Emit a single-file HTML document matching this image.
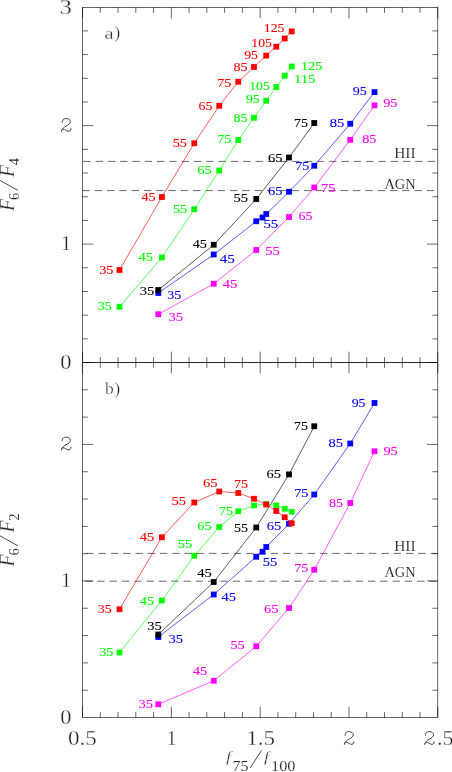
<!DOCTYPE html>
<html><head><meta charset="utf-8"><title>fig</title>
<style>html,body{margin:0;padding:0;background:#fff;}body{width:452px;height:772px;overflow:hidden;}svg{display:block;will-change:transform;}text{font-family:"Liberation Serif",serif;}.lb{font-size:13.3px;}.ax{font-size:20.2px;fill:#222;stroke:#fff;stroke-width:0.3px;}.it{font-style:italic;fill:#222;stroke:#fff;stroke-width:0.3px;}.rm{fill:#222;stroke:#fff;stroke-width:0.12px;}</style></head><body>
<svg width="452" height="772" viewBox="0 0 452 772">
<rect width="452" height="772" fill="#fff"/>
<g stroke="#000" stroke-width="0.6" fill="none">
<rect x="82.5" y="7.5" width="355.3" height="710.0"/>
<line x1="82.5" y1="362.5" x2="437.8" y2="362.5"/><line x1="82.5" y1="362.5" x2="437.8" y2="362.5"/>
<path d="M82.50 7.5v10.8M82.50 351.7v21.6M82.50 717.5v-10.8M100.27 7.5v5.4M100.27 357.1v10.8M100.27 717.5v-5.4M118.03 7.5v5.4M118.03 357.1v10.8M118.03 717.5v-5.4M135.80 7.5v5.4M135.80 357.1v10.8M135.80 717.5v-5.4M153.56 7.5v5.4M153.56 357.1v10.8M153.56 717.5v-5.4M171.32 7.5v10.8M171.32 351.7v21.6M171.32 717.5v-10.8M189.09 7.5v5.4M189.09 357.1v10.8M189.09 717.5v-5.4M206.85 7.5v5.4M206.85 357.1v10.8M206.85 717.5v-5.4M224.62 7.5v5.4M224.62 357.1v10.8M224.62 717.5v-5.4M242.39 7.5v5.4M242.39 357.1v10.8M242.39 717.5v-5.4M260.15 7.5v10.8M260.15 351.7v21.6M260.15 717.5v-10.8M277.92 7.5v5.4M277.92 357.1v10.8M277.92 717.5v-5.4M295.68 7.5v5.4M295.68 357.1v10.8M295.68 717.5v-5.4M313.45 7.5v5.4M313.45 357.1v10.8M313.45 717.5v-5.4M331.21 7.5v5.4M331.21 357.1v10.8M331.21 717.5v-5.4M348.98 7.5v10.8M348.98 351.7v21.6M348.98 717.5v-10.8M366.74 7.5v5.4M366.74 357.1v10.8M366.74 717.5v-5.4M384.50 7.5v5.4M384.50 357.1v10.8M384.50 717.5v-5.4M402.27 7.5v5.4M402.27 357.1v10.8M402.27 717.5v-5.4M420.03 7.5v5.4M420.03 357.1v10.8M420.03 717.5v-5.4M437.80 7.5v10.8M437.80 351.7v21.6M437.80 717.5v-10.8M82.5 362.50h10.8M437.8 362.50h-10.8M82.5 338.86h5.4M437.8 338.86h-5.4M82.5 315.17h5.4M437.8 315.17h-5.4M82.5 291.48h5.4M437.8 291.48h-5.4M82.5 267.79h5.4M437.8 267.79h-5.4M82.5 244.10h10.8M437.8 244.10h-10.8M82.5 220.41h5.4M437.8 220.41h-5.4M82.5 196.72h5.4M437.8 196.72h-5.4M82.5 173.03h5.4M437.8 173.03h-5.4M82.5 149.34h5.4M437.8 149.34h-5.4M82.5 125.65h10.8M437.8 125.65h-10.8M82.5 101.96h5.4M437.8 101.96h-5.4M82.5 78.27h5.4M437.8 78.27h-5.4M82.5 54.58h5.4M437.8 54.58h-5.4M82.5 30.89h5.4M437.8 30.89h-5.4M82.5 690.19h5.4M437.8 690.19h-5.4M82.5 662.88h5.4M437.8 662.88h-5.4M82.5 635.58h5.4M437.8 635.58h-5.4M82.5 608.27h5.4M437.8 608.27h-5.4M82.5 580.96h10.8M437.8 580.96h-10.8M82.5 553.65h5.4M437.8 553.65h-5.4M82.5 526.35h5.4M437.8 526.35h-5.4M82.5 499.04h5.4M437.8 499.04h-5.4M82.5 471.73h5.4M437.8 471.73h-5.4M82.5 444.42h10.8M437.8 444.42h-10.8M82.5 417.12h5.4M437.8 417.12h-5.4M82.5 389.81h5.4M437.8 389.81h-5.4"/>
</g>
<g stroke="#000" stroke-width="0.6" stroke-dasharray="7.4 4.9" fill="none">
<line x1="82.5" y1="161.40" x2="437.8" y2="161.40" stroke-dashoffset="11.6"/>
<line x1="82.5" y1="190.60" x2="437.8" y2="190.60" stroke-dashoffset="0.1"/>
<line x1="82.5" y1="553.40" x2="437.8" y2="553.40" stroke-dashoffset="8.6"/>
<line x1="82.5" y1="581.20" x2="437.8" y2="581.20" stroke-dashoffset="9.8"/>
</g>
<polyline points="158.3,314.25 213.75,283.75 256.25,250 289,217 314.25,187.5 350.25,139.8 374.5,105.4" fill="none" stroke="#ff00ff" stroke-width="0.64"/>
<g fill="#ff00ff"><rect x="155.40" y="311.35" width="5.8" height="5.8"/><rect x="210.85" y="280.85" width="5.8" height="5.8"/><rect x="253.35" y="247.10" width="5.8" height="5.8"/><rect x="286.10" y="214.10" width="5.8" height="5.8"/><rect x="311.35" y="184.60" width="5.8" height="5.8"/><rect x="347.35" y="136.90" width="5.8" height="5.8"/><rect x="371.60" y="102.50" width="5.8" height="5.8"/></g>
<polyline points="158.3,293 213.75,254.5 256.25,221.25 262.5,217.5 266.25,214 289,191.75 314.25,165.75 350.25,123.75 374.5,92.1" fill="none" stroke="#0000ff" stroke-width="0.64"/>
<g fill="#0000ff"><rect x="155.40" y="290.10" width="5.8" height="5.8"/><rect x="210.85" y="251.60" width="5.8" height="5.8"/><rect x="253.35" y="218.35" width="5.8" height="5.8"/><rect x="259.60" y="214.60" width="5.8" height="5.8"/><rect x="263.35" y="211.10" width="5.8" height="5.8"/><rect x="286.10" y="188.85" width="5.8" height="5.8"/><rect x="311.35" y="162.85" width="5.8" height="5.8"/><rect x="347.35" y="120.85" width="5.8" height="5.8"/><rect x="371.60" y="89.20" width="5.8" height="5.8"/></g>
<polyline points="158.3,290 213.75,244.75 256.25,199 289,157.5 314.25,123" fill="none" stroke="#000000" stroke-width="0.64"/>
<g fill="#000000"><rect x="155.40" y="287.10" width="5.8" height="5.8"/><rect x="210.85" y="241.85" width="5.8" height="5.8"/><rect x="253.35" y="196.10" width="5.8" height="5.8"/><rect x="286.10" y="154.60" width="5.8" height="5.8"/><rect x="311.35" y="120.10" width="5.8" height="5.8"/></g>
<polyline points="119.5,306.75 161.9,257.5 194.25,209.25 219.25,170.5 238.25,140 254,117.75 266.2,100.75 276.3,87 284.7,75.75 291.7,66.5" fill="none" stroke="#00ff00" stroke-width="0.64"/>
<g fill="#00ff00"><rect x="116.60" y="303.85" width="5.8" height="5.8"/><rect x="159.00" y="254.60" width="5.8" height="5.8"/><rect x="191.35" y="206.35" width="5.8" height="5.8"/><rect x="216.35" y="167.60" width="5.8" height="5.8"/><rect x="235.35" y="137.10" width="5.8" height="5.8"/><rect x="251.10" y="114.85" width="5.8" height="5.8"/><rect x="263.30" y="97.85" width="5.8" height="5.8"/><rect x="273.40" y="84.10" width="5.8" height="5.8"/><rect x="281.80" y="72.85" width="5.8" height="5.8"/><rect x="288.80" y="63.60" width="5.8" height="5.8"/></g>
<polyline points="119.5,270 161.9,197 194.25,143.25 219.25,105.75 238.25,81.75 254,67 266.2,55.6 276.3,46.7 284.7,38.5 291.7,31.4" fill="none" stroke="#ff0000" stroke-width="0.64"/>
<g fill="#ff0000"><rect x="116.60" y="267.10" width="5.8" height="5.8"/><rect x="159.00" y="194.10" width="5.8" height="5.8"/><rect x="191.35" y="140.35" width="5.8" height="5.8"/><rect x="216.35" y="102.85" width="5.8" height="5.8"/><rect x="235.35" y="78.85" width="5.8" height="5.8"/><rect x="251.10" y="64.10" width="5.8" height="5.8"/><rect x="263.30" y="52.70" width="5.8" height="5.8"/><rect x="273.40" y="43.80" width="5.8" height="5.8"/><rect x="281.80" y="35.60" width="5.8" height="5.8"/><rect x="288.80" y="28.50" width="5.8" height="5.8"/></g>
<polyline points="158.3,704.25 213.75,680.75 256.25,646.25 289,608 314.25,569.75 350.25,503 374.5,451.25" fill="none" stroke="#ff00ff" stroke-width="0.64"/>
<g fill="#ff00ff"><rect x="155.40" y="701.35" width="5.8" height="5.8"/><rect x="210.85" y="677.85" width="5.8" height="5.8"/><rect x="253.35" y="643.35" width="5.8" height="5.8"/><rect x="286.10" y="605.10" width="5.8" height="5.8"/><rect x="311.35" y="566.85" width="5.8" height="5.8"/><rect x="347.35" y="500.10" width="5.8" height="5.8"/><rect x="371.60" y="448.35" width="5.8" height="5.8"/></g>
<polyline points="158.3,637 213.75,594.5 256.25,556.75 262.5,551.75 266.25,547 289,523.75 314.25,494.5 350.25,443.5 374.5,403" fill="none" stroke="#0000ff" stroke-width="0.64"/>
<g fill="#0000ff"><rect x="155.40" y="634.10" width="5.8" height="5.8"/><rect x="210.85" y="591.60" width="5.8" height="5.8"/><rect x="253.35" y="553.85" width="5.8" height="5.8"/><rect x="259.60" y="548.85" width="5.8" height="5.8"/><rect x="263.35" y="544.10" width="5.8" height="5.8"/><rect x="286.10" y="520.85" width="5.8" height="5.8"/><rect x="311.35" y="491.60" width="5.8" height="5.8"/><rect x="347.35" y="440.60" width="5.8" height="5.8"/><rect x="371.60" y="400.10" width="5.8" height="5.8"/></g>
<polyline points="158.3,634.5 213.75,582 256.25,527.5 289,474.4 314.25,426.25" fill="none" stroke="#000000" stroke-width="0.64"/>
<g fill="#000000"><rect x="155.40" y="631.60" width="5.8" height="5.8"/><rect x="210.85" y="579.10" width="5.8" height="5.8"/><rect x="253.35" y="524.60" width="5.8" height="5.8"/><rect x="286.10" y="471.50" width="5.8" height="5.8"/><rect x="311.35" y="423.35" width="5.8" height="5.8"/></g>
<polyline points="119.5,652.5 161.9,600.5 194.25,555.75 219.25,527 238.25,511.25 254,505.5 266.2,504 276.3,505.5 284.7,508.75 291.7,511.75" fill="none" stroke="#00ff00" stroke-width="0.64"/>
<g fill="#00ff00"><rect x="116.60" y="649.60" width="5.8" height="5.8"/><rect x="159.00" y="597.60" width="5.8" height="5.8"/><rect x="191.35" y="552.85" width="5.8" height="5.8"/><rect x="216.35" y="524.10" width="5.8" height="5.8"/><rect x="235.35" y="508.35" width="5.8" height="5.8"/><rect x="251.10" y="502.60" width="5.8" height="5.8"/><rect x="263.30" y="501.10" width="5.8" height="5.8"/><rect x="273.40" y="502.60" width="5.8" height="5.8"/><rect x="281.80" y="505.85" width="5.8" height="5.8"/><rect x="288.80" y="508.85" width="5.8" height="5.8"/></g>
<polyline points="119.5,609.25 161.9,537.25 194.25,502.5 219.25,491.5 238.25,493 254,498.75 266.2,504.5 276.3,511 284.7,517.25 291.7,523.25" fill="none" stroke="#ff0000" stroke-width="0.64"/>
<g fill="#ff0000"><rect x="116.60" y="606.35" width="5.8" height="5.8"/><rect x="159.00" y="534.35" width="5.8" height="5.8"/><rect x="191.35" y="499.60" width="5.8" height="5.8"/><rect x="216.35" y="488.60" width="5.8" height="5.8"/><rect x="235.35" y="490.10" width="5.8" height="5.8"/><rect x="251.10" y="495.85" width="5.8" height="5.8"/><rect x="263.30" y="501.60" width="5.8" height="5.8"/><rect x="273.40" y="508.10" width="5.8" height="5.8"/><rect x="281.80" y="514.35" width="5.8" height="5.8"/><rect x="288.80" y="520.35" width="5.8" height="5.8"/></g>
<g class="lb" fill="#ff00ff" stroke="#ff00ff" stroke-width="0.1">
<text x="168.45" y="321.40" textLength="14.55" lengthAdjust="spacingAndGlyphs">35</text>
<text x="222.70" y="288.40" textLength="14.55" lengthAdjust="spacingAndGlyphs">45</text>
<text x="265.20" y="255.40" textLength="14.55" lengthAdjust="spacingAndGlyphs">55</text>
<text x="298.45" y="220.40" textLength="14.05" lengthAdjust="spacingAndGlyphs">65</text>
<text x="320.95" y="191.65" textLength="14.55" lengthAdjust="spacingAndGlyphs">75</text>
<text x="362.20" y="143.40" textLength="14.30" lengthAdjust="spacingAndGlyphs">85</text>
<text x="383.20" y="107.15" textLength="14.30" lengthAdjust="spacingAndGlyphs">95</text>
<text x="138.45" y="707.90" textLength="14.55" lengthAdjust="spacingAndGlyphs">35</text>
<text x="192.70" y="674.65" textLength="14.55" lengthAdjust="spacingAndGlyphs">45</text>
<text x="230.45" y="649.40" textLength="14.30" lengthAdjust="spacingAndGlyphs">55</text>
<text x="263.95" y="612.90" textLength="14.55" lengthAdjust="spacingAndGlyphs">65</text>
<text x="294.20" y="572.15" textLength="14.30" lengthAdjust="spacingAndGlyphs">75</text>
<text x="328.95" y="507.15" textLength="14.05" lengthAdjust="spacingAndGlyphs">85</text>
<text x="383.45" y="454.90" textLength="14.30" lengthAdjust="spacingAndGlyphs">95</text>
</g>
<g class="lb" fill="#0000ff" stroke="#0000ff" stroke-width="0.1">
<text x="167.20" y="298.90" textLength="14.05" lengthAdjust="spacingAndGlyphs">35</text>
<text x="219.70" y="262.90" textLength="15.05" lengthAdjust="spacingAndGlyphs">45</text>
<text x="263.40" y="227.90" textLength="14.80" lengthAdjust="spacingAndGlyphs">55</text>
<text x="267.95" y="194.90" textLength="14.55" lengthAdjust="spacingAndGlyphs">65</text>
<text x="295.20" y="169.65" textLength="14.05" lengthAdjust="spacingAndGlyphs">75</text>
<text x="329.70" y="126.65" textLength="14.55" lengthAdjust="spacingAndGlyphs">85</text>
<text x="352.70" y="95.40" textLength="14.05" lengthAdjust="spacingAndGlyphs">95</text>
<text x="168.45" y="643.40" textLength="14.55" lengthAdjust="spacingAndGlyphs">35</text>
<text x="221.45" y="601.15" textLength="14.55" lengthAdjust="spacingAndGlyphs">45</text>
<text x="262.70" y="566.15" textLength="14.55" lengthAdjust="spacingAndGlyphs">55</text>
<text x="266.70" y="529.90" textLength="14.55" lengthAdjust="spacingAndGlyphs">65</text>
<text x="294.20" y="496.65" textLength="14.30" lengthAdjust="spacingAndGlyphs">75</text>
<text x="328.45" y="447.40" textLength="14.55" lengthAdjust="spacingAndGlyphs">85</text>
<text x="351.70" y="406.65" textLength="13.80" lengthAdjust="spacingAndGlyphs">95</text>
</g>
<g class="lb" fill="#000000" stroke="#000000" stroke-width="0.1">
<text x="139.70" y="294.65" textLength="14.55" lengthAdjust="spacingAndGlyphs">35</text>
<text x="192.70" y="247.90" textLength="14.30" lengthAdjust="spacingAndGlyphs">45</text>
<text x="233.45" y="202.40" textLength="14.55" lengthAdjust="spacingAndGlyphs">55</text>
<text x="267.95" y="161.65" textLength="14.55" lengthAdjust="spacingAndGlyphs">65</text>
<text x="293.95" y="126.65" textLength="14.05" lengthAdjust="spacingAndGlyphs">75</text>
<text x="147.20" y="630.40" textLength="14.55" lengthAdjust="spacingAndGlyphs">35</text>
<text x="197.20" y="576.65" textLength="14.55" lengthAdjust="spacingAndGlyphs">45</text>
<text x="233.95" y="531.65" textLength="14.05" lengthAdjust="spacingAndGlyphs">55</text>
<text x="266.45" y="478.40" textLength="14.55" lengthAdjust="spacingAndGlyphs">65</text>
<text x="293.95" y="430.40" textLength="14.05" lengthAdjust="spacingAndGlyphs">75</text>
</g>
<g class="lb" fill="#00ff00" stroke="#00ff00" stroke-width="0.1">
<text x="97.70" y="309.65" textLength="14.05" lengthAdjust="spacingAndGlyphs">35</text>
<text x="138.45" y="261.40" textLength="14.55" lengthAdjust="spacingAndGlyphs">45</text>
<text x="172.95" y="213.15" textLength="14.30" lengthAdjust="spacingAndGlyphs">55</text>
<text x="197.20" y="173.65" textLength="14.55" lengthAdjust="spacingAndGlyphs">65</text>
<text x="217.20" y="143.40" textLength="14.05" lengthAdjust="spacingAndGlyphs">75</text>
<text x="233.45" y="122.40" textLength="14.05" lengthAdjust="spacingAndGlyphs">85</text>
<text x="245.95" y="102.90" textLength="13.80" lengthAdjust="spacingAndGlyphs">95</text>
<text x="249.20" y="89.90" textLength="20.55" lengthAdjust="spacingAndGlyphs">105</text>
<text x="293.95" y="83.40" textLength="21.55" lengthAdjust="spacingAndGlyphs">115</text>
<text x="300.95" y="69.90" textLength="21.55" lengthAdjust="spacingAndGlyphs">125</text>
<text x="99.20" y="655.90" textLength="14.30" lengthAdjust="spacingAndGlyphs">35</text>
<text x="139.70" y="604.65" textLength="14.55" lengthAdjust="spacingAndGlyphs">45</text>
<text x="177.70" y="548.40" textLength="14.55" lengthAdjust="spacingAndGlyphs">55</text>
<text x="197.20" y="529.90" textLength="14.55" lengthAdjust="spacingAndGlyphs">65</text>
<text x="218.95" y="514.90" textLength="14.05" lengthAdjust="spacingAndGlyphs">75</text>
</g>
<g class="lb" fill="#ff0000" stroke="#ff0000" stroke-width="0.1">
<text x="99.20" y="273.90" textLength="14.30" lengthAdjust="spacingAndGlyphs">35</text>
<text x="141.45" y="201.15" textLength="14.05" lengthAdjust="spacingAndGlyphs">45</text>
<text x="172.70" y="146.65" textLength="14.30" lengthAdjust="spacingAndGlyphs">55</text>
<text x="198.45" y="110.40" textLength="14.05" lengthAdjust="spacingAndGlyphs">65</text>
<text x="217.20" y="86.65" textLength="14.05" lengthAdjust="spacingAndGlyphs">75</text>
<text x="233.45" y="71.00" textLength="14.05" lengthAdjust="spacingAndGlyphs">85</text>
<text x="244.20" y="59.40" textLength="13.80" lengthAdjust="spacingAndGlyphs">95</text>
<text x="251.30" y="46.90" textLength="20.60" lengthAdjust="spacingAndGlyphs">105</text>
<text x="263.70" y="32.20" textLength="20.90" lengthAdjust="spacingAndGlyphs">125</text>
<text x="97.70" y="613.40" textLength="14.05" lengthAdjust="spacingAndGlyphs">35</text>
<text x="139.70" y="540.90" textLength="14.55" lengthAdjust="spacingAndGlyphs">45</text>
<text x="171.45" y="504.65" textLength="14.55" lengthAdjust="spacingAndGlyphs">55</text>
<text x="202.95" y="486.65" textLength="14.55" lengthAdjust="spacingAndGlyphs">65</text>
<text x="233.95" y="487.90" textLength="14.05" lengthAdjust="spacingAndGlyphs">75</text>
</g>
<g class="ax">
<text x="59.6" y="13.50" textLength="12.4" lengthAdjust="spacingAndGlyphs">3</text>
<path transform="translate(60.70,118.10) scale(1.0)" d="M1.5 4.3C1.1 3.9 1.2 3.2 1.9 3.0C1.7 1.5 3.3 0.45 5.3 0.45C7.9 0.45 9.7 1.7 9.7 3.6C9.7 5.5 7.7 6.8 5.3 8.1C3.1 9.3 1.3 10.6 0.75 13.3M0.85 12.1C1.8 10.8 3.3 10.8 4.7 11.8C6.4 13.0 8.3 13.7 9.4 12.7C10.0 12.1 10.2 11.4 10.25 10.5" fill="none" stroke="#222" stroke-width="0.85" stroke-linecap="round" stroke-linejoin="round"/>
<text x="60.9" y="250.20">1</text>
<text x="60.2" y="368.50" textLength="11.2" lengthAdjust="spacingAndGlyphs">0</text>
<path transform="translate(60.70,436.70) scale(1.0)" d="M1.5 4.3C1.1 3.9 1.2 3.2 1.9 3.0C1.7 1.5 3.3 0.45 5.3 0.45C7.9 0.45 9.7 1.7 9.7 3.6C9.7 5.5 7.7 6.8 5.3 8.1C3.1 9.3 1.3 10.6 0.75 13.3M0.85 12.1C1.8 10.8 3.3 10.8 4.7 11.8C6.4 13.0 8.3 13.7 9.4 12.7C10.0 12.1 10.2 11.4 10.25 10.5" fill="none" stroke="#222" stroke-width="0.85" stroke-linecap="round" stroke-linejoin="round"/>
<text x="60.9" y="587.00">1</text>
<text x="60.2" y="723.50" textLength="11.2" lengthAdjust="spacingAndGlyphs">0</text>
<text x="68.00" y="744.9" textLength="28.8" lengthAdjust="spacingAndGlyphs">0.5</text>
<text x="166.50" y="744.9" textLength="10.2" lengthAdjust="spacingAndGlyphs">1</text>
<text x="246.20" y="744.9" textLength="28.8" lengthAdjust="spacingAndGlyphs">1.5</text>
<path transform="translate(343.60,731.15) scale(1.0)" d="M1.5 4.3C1.1 3.9 1.2 3.2 1.9 3.0C1.7 1.5 3.3 0.45 5.3 0.45C7.9 0.45 9.7 1.7 9.7 3.6C9.7 5.5 7.7 6.8 5.3 8.1C3.1 9.3 1.3 10.6 0.75 13.3M0.85 12.1C1.8 10.8 3.3 10.8 4.7 11.8C6.4 13.0 8.3 13.7 9.4 12.7C10.0 12.1 10.2 11.4 10.25 10.5" fill="none" stroke="#222" stroke-width="0.85" stroke-linecap="round" stroke-linejoin="round"/>
<path transform="translate(423.90,731.15) scale(1.0)" d="M1.5 4.3C1.1 3.9 1.2 3.2 1.9 3.0C1.7 1.5 3.3 0.45 5.3 0.45C7.9 0.45 9.7 1.7 9.7 3.6C9.7 5.5 7.7 6.8 5.3 8.1C3.1 9.3 1.3 10.6 0.75 13.3M0.85 12.1C1.8 10.8 3.3 10.8 4.7 11.8C6.4 13.0 8.3 13.7 9.4 12.7C10.0 12.1 10.2 11.4 10.25 10.5" fill="none" stroke="#222" stroke-width="0.85" stroke-linecap="round" stroke-linejoin="round"/>
<text x="436.9" y="744.9" textLength="16.5" lengthAdjust="spacingAndGlyphs">.5</text>
</g>
<g class="rm" font-size="17.5" style="stroke-width:0.3px">
<text transform="translate(104.2,39) scale(1.21,1)">a</text>
<text font-size="16.9" x="114.5" y="38.2">)</text>
<text transform="translate(104.9,393.9) scale(1.0,0.95)">b</text>
<text font-size="16.9" x="114.5" y="394.1">)</text>
</g>
<g class="rm" font-size="15">
<text x="394.2" y="157.5" textLength="21.4" lengthAdjust="spacingAndGlyphs">HII</text>
<text x="384.4" y="188.6" textLength="31.2" lengthAdjust="spacingAndGlyphs">AGN</text>
<text x="394.2" y="551.0" textLength="21.4" lengthAdjust="spacingAndGlyphs">HII</text>
<text x="384.4" y="577.3" textLength="31.2" lengthAdjust="spacingAndGlyphs">AGN</text>
</g>
<g transform="translate(13.6,211.2) rotate(-90)"><text class="it" font-size="22" transform="translate(0.1,0) scale(0.9,1)">F</text><text class="rm" font-size="14.6" x="11.2" y="5.25">6</text><line x1="20.9" y1="4.1" x2="31.3" y2="-14.5" stroke="#222" stroke-width="0.8"/><text class="it" font-size="22" transform="translate(34.1,0) scale(0.9,1)">F</text><text class="rm" font-size="14.6" x="45.9" y="5.25">4</text></g>
<g transform="translate(13.6,566.6) rotate(-90)"><text class="it" font-size="22" transform="translate(0.1,0) scale(0.9,1)">F</text><text class="rm" font-size="14.6" x="11.2" y="5.25">6</text><line x1="20.9" y1="4.1" x2="31.3" y2="-14.5" stroke="#222" stroke-width="0.8"/><text class="it" font-size="22" transform="translate(34.1,0) scale(0.9,1)">F</text><text class="rm" font-size="14.6" x="45.9" y="5.25">2</text></g>
<g><text class="it" font-size="14.5" transform="translate(226,762.3) scale(1.25,1)">f</text><text class="rm" font-size="14.6" x="232.6" y="770.55" textLength="16" lengthAdjust="spacingAndGlyphs">75</text><line x1="250.1" y1="768" x2="261.6" y2="750.3" stroke="#222" stroke-width="0.8"/><text class="it" font-size="14.5" transform="translate(264,762.3) scale(1.25,1)">f</text><text class="rm" font-size="14.6" x="271" y="770.55" textLength="24.4" lengthAdjust="spacingAndGlyphs">100</text></g>
</svg></body></html>
